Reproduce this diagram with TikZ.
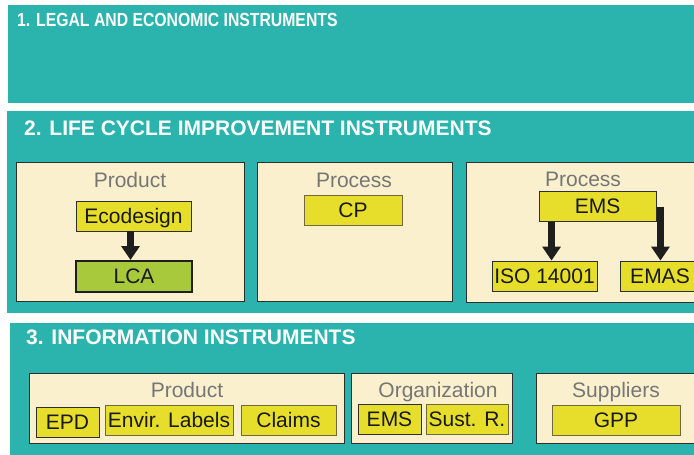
\documentclass[tikz,border=0pt]{standalone}
\usepackage{fontspec}
\setmainfont{Liberation Sans}
\usepackage{tikz}
\usetikzlibrary{positioning, arrows.meta}

\definecolor{bandteal}{HTML}{2BB3AD}
\definecolor{creamfill}{HTML}{FAF0CE}
\definecolor{instyellow}{HTML}{E7DE2B}
\definecolor{lcagreen}{HTML}{A9C93C}
\definecolor{labelgray}{HTML}{767676}
\definecolor{darkedge}{HTML}{2E2E2E}
\definecolor{oliveedge}{HTML}{6F6A3C}
\definecolor{arrowblack}{HTML}{1E1E1E}

\newcommand{\boxfont}{\fontsize{21}{25}\selectfont}
\newcommand{\smalltitlefont}{\fontsize{19}{22}\selectfont\bfseries}
\newcommand{\bigtitlefont}{\fontsize{21}{25}\selectfont\bfseries}

\tikzset{
  band/.style={fill=bandteal},
  bandtitle/.style={anchor=base west, text=white, inner sep=0pt},
  creambox/.style={draw=darkedge, fill=creamfill, line width=0.9pt, inner sep=0pt, anchor=north west},
  boxlabel/.style={anchor=base, text=labelgray, font=\boxfont, inner sep=0pt},
  ybox/.style={fill=instyellow, line width=0.9pt, inner sep=0pt, minimum height=30pt,
    text height=14.5pt, text depth=0pt, font=\boxfont, text=black!90},
  gbox/.style={ybox, fill=lcagreen, draw=arrowblack, line width=2pt},
  bigarrow/.style={draw=arrowblack, line width=7pt, -{Triangle[width=18pt, length=14pt]}}
}

\begin{document}
\begin{tikzpicture}[x=1pt, y=-1pt]
  \useasboundingbox (0,0) rectangle (694,455);
  \begin{scope}
    \clip (0,0) rectangle (694,455);

    % Draw the three bands
    \fill[band] (8,5) rectangle (705,103);
    \fill[band] (7,111) rectangle (705,313);
    \fill[band] (10,323) rectangle (705,460);

    \node[bandtitle, font=\smalltitlefont] (legaltitle) at (17,27) {\scalebox{0.83}[1]{1. LEGAL AND ECONOMIC INSTRUMENTS}};
    \node[bandtitle, font=\bigtitlefont] (lifetitle) at (24,135) {2. LIFE CYCLE IMPROVEMENT INSTRUMENTS};
    \node[bandtitle, font=\bigtitlefont] (infotitle) at (26,344) {3. INFORMATION INSTRUMENTS};

    % Cream boxes
    \foreach \n/\x/\y/\w/\h in {lcprod/16/162/228/139, lcproc/257/162/195/139, lcems/466/162/240/140,
                                inprod/29/373/315/70, inorg/351/373/161/70, insupp/536/373/170/70} {
      \node[creambox, minimum width=\w, minimum height=\h] (\n) at (\x,\y) {};
    }

    % Box headings
    \foreach \n/\x/\y/\t in {lcprodlabel/130/187/Product, lcproclabel/354/187/Process, lcemslabel/583/186/Process,
                             inprodlabel/187/397/Product, inorglabel/438/397/Organization, insupplabel/616/397/Suppliers} {
      \node[boxlabel] (\n) at (\x,\y) {\t};
    }

    % Instruments
    \foreach \n/\x/\y/\w/\c/\t in {ecodesign/133.5/216/115/darkedge/Ecodesign, cp/353/210/98/oliveedge/CP,
                                   ems/597.5/206.5/117/darkedge/EMS, iso/544.5/276/105/darkedge/ISO 14001,
                                   emas/660/276/80/darkedge/EMAS,
                                   epd/67.5/422/63/darkedge/EPD, labels/169/420/128/oliveedge/Envir. Labels,
                                   claims/288.5/420.5/95/oliveedge/Claims, orgems/389.5/419/63/darkedge/EMS,
                                   sustr/467/419/82/oliveedge/Sust. R., gpp/616/420.5/128/oliveedge/GPP} {
      \node[ybox, draw=\c, minimum width=\w] (\n) at (\x,\y) {\t};
    }
    \node[gbox, minimum width=116, minimum height=31] (lca) at (134,276.5) {LCA};

    % Arrows
    \draw[bigarrow] ([xshift=-3pt]ecodesign.south) -- ([xshift=-3pt]ecodesign.south |- lca.north);
    \draw[bigarrow] ([xshift=13pt]ems.south west) -- ([xshift=13pt]ems.south west |- iso.north);
    \draw[bigarrow] ([xshift=4pt]ems.east) -- ([xshift=4pt]ems.east |- emas.north);
  \end{scope}
\end{tikzpicture}
\end{document}
